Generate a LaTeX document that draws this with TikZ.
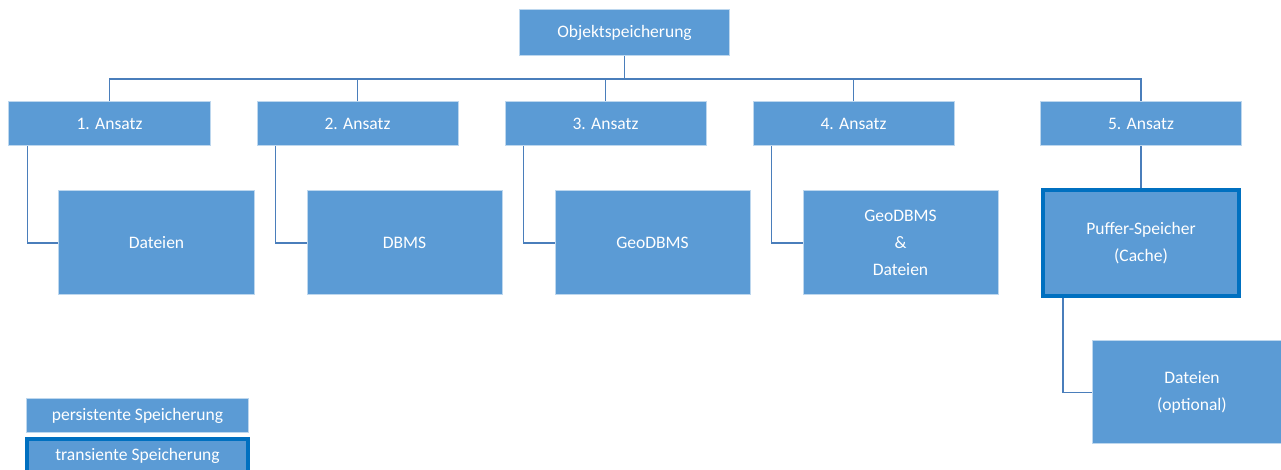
\documentclass[tikz,border=0pt]{standalone}
\usepackage{fontspec}
\setmainfont{Carlito}
\usetikzlibrary{calc}
\definecolor{boxblue}{HTML}{5B9BD5}
\definecolor{boxlight}{HTML}{BDD7EE}
\definecolor{lineblue}{HTML}{4A7EBB}
\definecolor{edgeblue}{HTML}{0070C0}
\begin{document}
\begin{tikzpicture}[x=1bp,y=-1bp,
  box/.style={fill=boxblue,draw=boxlight,line width=1bp,text=white,
    font=\fontsize{17.6}{27}\selectfont,align=center,inner sep=0pt},
  thickbox/.style={box,draw=edgeblue,line width=4bp},
  conn/.style={draw=lineblue,line width=1.5bp}]
\path[use as bounding box] (0,0) rectangle (1281,470);
\clip (0,0) rectangle (1281,470);

% top node
\node[box,minimum width=210bp,minimum height=46bp] (top) at (624.5,33) {Objektspeicherung};

% approaches
\node[box,minimum width=201bp,minimum height=44bp] (a1) at (109.5,124) {1. Ansatz};
\node[box,minimum width=201bp,minimum height=44bp] (a2) at (357.5,124) {2. Ansatz};
\node[box,minimum width=201bp,minimum height=44bp] (a3) at (605.5,124) {3. Ansatz};
\node[box,minimum width=201bp,minimum height=44bp] (a4) at (853.5,124) {4. Ansatz};
\node[box,minimum width=201bp,minimum height=44bp] (a5) at (1141,124) {5. Ansatz};

% children
\node[box,minimum width=195bp,minimum height=104bp] (c1) at (156.5,243) {Dateien};
\node[box,minimum width=195bp,minimum height=104bp] (c2) at (404.5,243) {DBMS};
\node[box,minimum width=195bp,minimum height=104bp] (c3) at (652.5,243) {GeoDBMS};
\node[box,minimum width=195bp,minimum height=104bp] (c4) at (900.5,243) {GeoDBMS\\\&\\Dateien};
\node[thickbox,minimum width=196bp,minimum height=106bp] (p) at (1141,243) {Puffer-Speicher\\(Cache)};
\node[box,minimum width=200bp,minimum height=103bp] (d) at (1192,392.5) {Dateien\\(optional)};

% legend
\node[box,minimum width=221bp,minimum height=34bp] (lp) at (137.5,416) {persistente Speicherung};
\node[thickbox,minimum width=221bp,minimum height=34bp] (lt) at (137.5,456) {transiente Speicherung};

% connectors
\coordinate (bus) at (624.5,79);
\draw[conn] (top.south) -- (top.south |- bus) -| (a1.north);
\draw[conn] (top.south |- bus) -| (a2.north);
\draw[conn] (top.south |- bus) -| (a3.north);
\draw[conn] (top.south |- bus) -| (a4.north);
\draw[conn] (top.south |- bus) -| (a5.north);

\draw[conn] ($(a1.south west)+(19,0)$) |- (c1.west);
\draw[conn] ($(a2.south west)+(19,0)$) |- (c2.west);
\draw[conn] ($(a3.south west)+(19,0)$) |- (c3.west);
\draw[conn] ($(a4.south west)+(19,0)$) |- (c4.west);
\draw[conn] (a5.south) -- (p.north);
\draw[conn] ($(p.south west)+(22,0)$) |- (d.west);
\end{tikzpicture}
\end{document}
